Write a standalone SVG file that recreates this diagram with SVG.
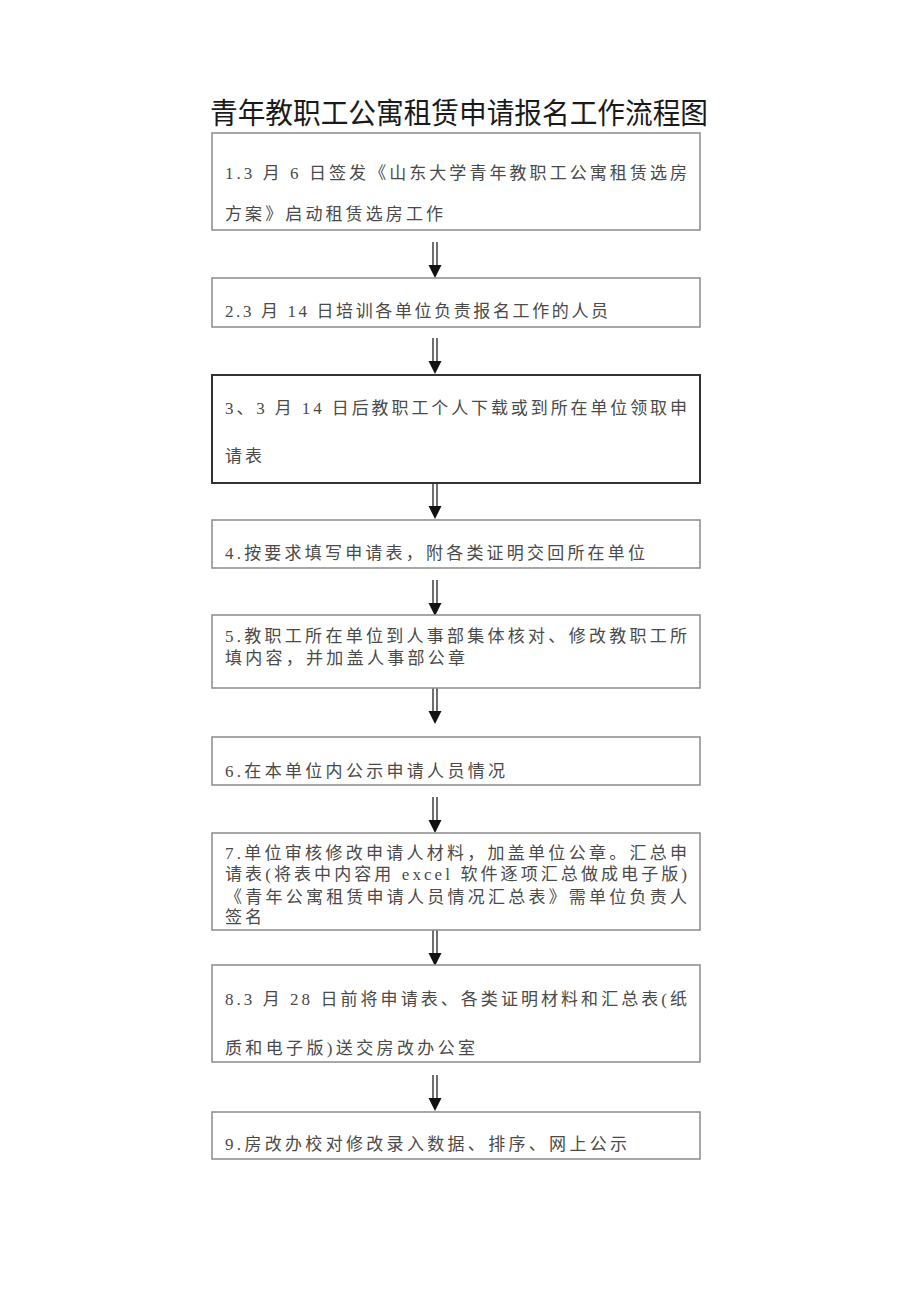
<svg xmlns="http://www.w3.org/2000/svg" width="920" height="1301" viewBox="0 0 920 1301">
<style>
.box{fill:#fff;stroke:#8a8a8a;stroke-width:1.5}
.dark{stroke:#333;stroke-width:2}
.t{font-family:"Liberation Serif","Noto Sans CJK SC",serif;font-size:17px;fill:#4a4a4a}
.title{font-family:"Liberation Serif","Noto Sans CJK SC",serif;font-size:29px;fill:#1a1a1a}
.shaft{stroke:#222;stroke-width:1.3}
.head{fill:#111}
</style>
<defs>
<g id="arr">
<line class="shaft" x1="-2" y1="0" x2="-2" y2="24"/>
<line class="shaft" x1="2" y1="0" x2="2" y2="24"/>
<polygon class="head" points="-6.5,23 6.5,23 0,36"/>
</g>
</defs>
<rect width="920" height="1301" fill="#fff"/>
<text class="title" x="459" y="124" text-anchor="middle" textLength="498" lengthAdjust="spacingAndGlyphs">青年教职工公寓租赁申请报名工作流程图</text>
<g id="connectors">
<use href="#arr" x="435" y="242"/>
<use href="#arr" x="435" y="338"/>
<use href="#arr" x="435" y="483"/>
<use href="#arr" x="435" y="580"/>
<use href="#arr" x="435" y="688"/>
<use href="#arr" x="435" y="797"/>
<use href="#arr" x="435" y="930"/>
<use href="#arr" x="435" y="1075"/>
</g>
<g id="n1">
<rect class="box" x="212" y="133" width="488" height="97"/>
<text class="t" x="225" y="179" textLength="462" lengthAdjust="spacing">1.3 月 6 日签发《山东大学青年教职工公寓租赁选房</text>
<text class="t" x="225" y="220" textLength="218" lengthAdjust="spacing">方案》启动租赁选房工作</text>
</g>
<g id="n2">
<rect class="box" x="212" y="278" width="488" height="49"/>
<text class="t" x="225" y="317" textLength="383" lengthAdjust="spacing">2.3 月 14 日培训各单位负责报名工作的人员</text>
</g>
<g id="n3">
<rect class="box dark" x="212" y="375" width="488" height="108"/>
<text class="t" x="225" y="414" textLength="462" lengthAdjust="spacing">3、3 月 14 日后教职工个人下载或到所在单位领取申</text>
<text class="t" x="225" y="462" textLength="37" lengthAdjust="spacing">请表</text>
</g>
<g id="n4">
<rect class="box" x="212" y="520" width="488" height="48"/>
<text class="t" x="225" y="559" textLength="420" lengthAdjust="spacing">4.按要求填写申请表，附各类证明交回所在单位</text>
</g>
<g id="n5">
<rect class="box" x="212" y="615" width="488" height="73"/>
<text class="t" x="225" y="642" textLength="462" lengthAdjust="spacing">5.教职工所在单位到人事部集体核对、修改教职工所</text>
<text class="t" x="225" y="664" textLength="240" lengthAdjust="spacing">填内容，并加盖人事部公章</text>
</g>
<g id="n6">
<rect class="box" x="212" y="737" width="488" height="48"/>
<text class="t" x="225" y="777" textLength="280" lengthAdjust="spacing">6.在本单位内公示申请人员情况</text>
</g>
<g id="n7">
<rect class="box" x="212" y="833" width="488" height="97"/>
<text class="t" x="225" y="859" textLength="462" lengthAdjust="spacing">7.单位审核修改申请人材料，加盖单位公章。汇总申</text>
<text class="t" x="225" y="880" textLength="462" lengthAdjust="spacing">请表(将表中内容用 excel 软件逐项汇总做成电子版)</text>
<text class="t" x="225" y="903" textLength="462" lengthAdjust="spacing">《青年公寓租赁申请人员情况汇总表》需单位负责人</text>
<text class="t" x="225" y="923" textLength="37" lengthAdjust="spacing">签名</text>
</g>
<g id="n8">
<rect class="box" x="212" y="965" width="488" height="97"/>
<text class="t" x="225" y="1005" textLength="462" lengthAdjust="spacing">8.3 月 28 日前将申请表、各类证明材料和汇总表(纸</text>
<text class="t" x="225" y="1054" textLength="250" lengthAdjust="spacing">质和电子版)送交房改办公室</text>
</g>
<g id="n9">
<rect class="box" x="212" y="1112" width="488" height="47"/>
<text class="t" x="225" y="1150" textLength="402" lengthAdjust="spacing">9.房改办校对修改录入数据、排序、网上公示</text>
</g>
</svg>
